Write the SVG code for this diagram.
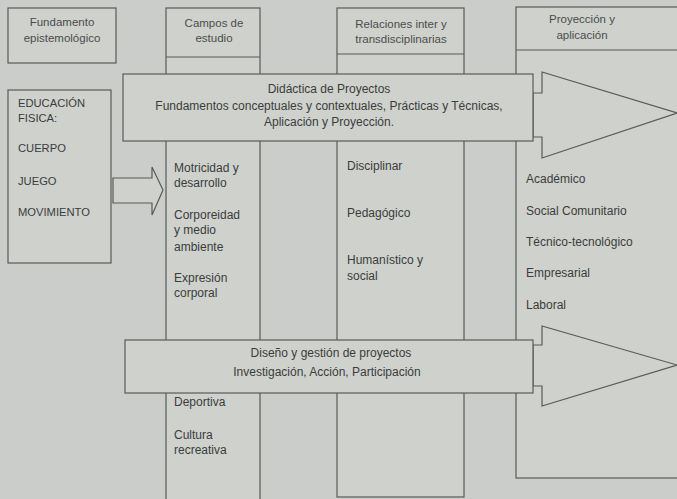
<svg xmlns="http://www.w3.org/2000/svg" width="677" height="499" viewBox="0 0 677 499">
<style>
.bg{fill:#cacdc9}
.box{fill:#cfd1cd;stroke:#585b58;stroke-width:1.2}
.ln{fill:none;stroke:#585b58;stroke-width:1.2}
text{font-family:"Liberation Sans",Arial,sans-serif;font-size:12px;fill:#3a3d3c}
.c{text-anchor:middle}
.h{font-size:11.5px;fill:#4a4d4c}
.u{font-size:11.2px}
</style>
<rect class="bg" x="0" y="0" width="677" height="499"/>

<g id="col-fundamento">
<rect class="box" x="8" y="8" width="108" height="55"/>
<text class="c h" x="62" y="26">Fundamento</text>
<text class="c h" x="62" y="42">epistemológico</text>
</g>

<g id="col-campos">
<rect class="box" x="166" y="8" width="94" height="500"/>
<line class="ln" x1="166" y1="57" x2="260" y2="57"/>
<text class="c h" x="214" y="27">Campos de</text>
<text class="c h" x="214" y="42">estudio</text>
<text x="174" y="172">Motricidad y</text>
<text x="174" y="187">desarrollo</text>
<text x="174" y="219">Corporeidad</text>
<text x="174" y="234">y medio</text>
<text x="174" y="251">ambiente</text>
<text x="174" y="282">Expresión</text>
<text x="174" y="297">corporal</text>
<text x="174" y="406">Deportiva</text>
<text x="174" y="439">Cultura</text>
<text x="174" y="454">recreativa</text>
</g>

<g id="col-relaciones">
<rect class="box" x="337" y="8" width="127" height="489"/>
<line class="ln" x1="337" y1="54" x2="464" y2="54"/>
<text class="c h" x="401" y="28">Relaciones inter  y</text>
<text class="c h" x="401" y="43">transdisciplinarias</text>
<text x="347" y="170">Disciplinar</text>
<text x="347" y="217">Pedagógico</text>
<text x="347" y="264">Humanístico y</text>
<text x="347" y="280">social</text>
</g>

<g id="col-proyeccion">
<rect class="box" x="516" y="7" width="170" height="471"/>
<line class="ln" x1="516" y1="50" x2="677" y2="50"/>
<text class="c h" x="582" y="23">Proyección y</text>
<text class="c h" x="582" y="39">aplicación</text>
<text x="526" y="183">Académico</text>
<text x="526" y="215">Social Comunitario</text>
<text x="526" y="246">Técnico-tecnológico</text>
<text x="526" y="277">Empresarial</text>
<text x="526" y="309">Laboral</text>
</g>

<g id="educacion">
<rect class="box" x="8" y="90" width="103" height="173"/>
<text class="u" x="18" y="107">EDUCACIÓN</text>
<text class="u" x="18" y="122">FISICA:</text>
<text class="u" x="18" y="152">CUERPO</text>
<text class="u" x="18" y="185">JUEGO</text>
<text class="u" x="18" y="216">MOVIMIENTO</text>
</g>

<g id="connectors">
<polygon class="box" points="113,178 152,178 152,167 163,190 152,215 152,203 113,203"/>
<path class="box" d="M533,93 H542 V72 L677,113 L542,158 V137 H533 Z"/>
<path class="box" d="M533,345 H542 V326 L677,365 L542,406 V386 H533 Z"/>
</g>

<g id="didactica">
<rect class="box" x="123" y="74" width="410" height="67"/>
<text class="c" x="329" y="93">Didáctica de Proyectos</text>
<text class="c" x="329" y="110">Fundamentos conceptuales y contextuales, Prácticas y Técnicas,</text>
<text class="c" x="329" y="126">Aplicación y Proyección.</text>
</g>

<g id="diseno">
<rect class="box" x="125" y="340" width="408" height="53"/>
<text class="c" x="331" y="357">Diseño y gestión de proyectos</text>
<text class="c" x="327" y="376">Investigación, Acción, Participación</text>
</g>
</svg>
